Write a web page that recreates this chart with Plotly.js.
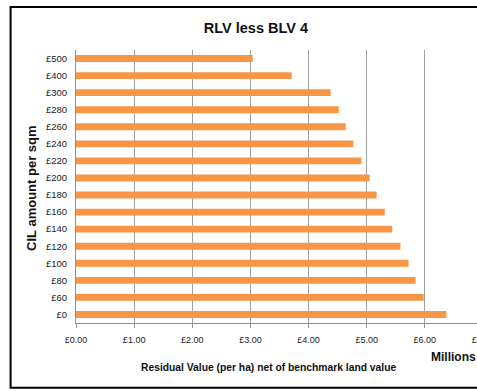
<!DOCTYPE html>
<html>
<head>
<meta charset="utf-8">
<script src="https://cdn.plot.ly/plotly-3.0.1.min.js"></script>
<style>
html,body{margin:0;padding:0;overflow:hidden;background:#fff;}
#chart{width:500px;height:391px;}
</style>
</head>
<body>
<div id="chart"></div>
<script>
const categories = ["£0","£60","£80","£100","£120","£140","£160","£180","£200","£220","£240","£260","£280","£300","£400","£500"];
const values = [6.37,5.98,5.84,5.72,5.58,5.44,5.31,5.17,5.05,4.91,4.77,4.64,4.52,4.38,3.71,3.04];
const xTickVals = [0,1,2,3,4,5,6,7];
const xTickText = ["£0.00","£1.00","£2.00","£3.00","£4.00","£5.00","£6.00","£7.00"];

const font = "Liberation Sans, Arial, sans-serif";

const trace = {
  type: "bar",
  orientation: "h",
  y: categories,
  x: values,
  marker: {color: "#F79646"},
  hoverinfo: "none"
};

const layout = {
  width: 500,
  height: 391,
  margin: {l: 76, r: 16.6, t: 50, b: 67.7},
  paper_bgcolor: "#fff",
  plot_bgcolor: "#fff",
  bargap: 0.6,
  showlegend: false,
  font: {family: font, color: "#222", size: 9},
  title: {
    text: "<b>RLV less BLV 4</b>",
    font: {family: font, size: 14.5, color: "#111"},
    xref: "paper", x: 0.442, xanchor: "center",
    yref: "container", y: 1 - 28/391, yanchor: "middle"
  },
  xaxis: {
    range: [0, 7],
    tickvals: xTickVals,
    ticktext: xTickText,
    showgrid: true,
    gridcolor: "#a0a0a0",
    gridwidth: 1,
    showline: true,
    linecolor: "#909090",
    linewidth: 1,
    ticks: "outside",
    ticklen: 4,
    tickcolor: "#909090",
    tickfont: {family: font, size: 9, color: "#222"},
    ticklabelstandoff: 4,
    zeroline: false,
    fixedrange: true
  },
  yaxis: {
    type: "category",
    categoryorder: "array",
    categoryarray: categories,
    showgrid: false,
    showline: true,
    linecolor: "#909090",
    linewidth: 1,
    ticks: "",
    tickfont: {family: font, size: 9.5, color: "#222"},
    ticklabelstandoff: 6,
    zeroline: false,
    fixedrange: true
  },
  annotations: [
    {
      text: "<b>CIL amount per sqm</b>",
      textangle: -90,
      xref: "paper", yref: "paper",
      x: (32 - 76) / 407.4, y: (323.3 - 189) / 273.3,
      xanchor: "center", yanchor: "middle",
      showarrow: false,
      font: {family: font, size: 13, color: "#111"}
    },
    {
      text: "<b>Residual Value (per ha) net of benchmark land value</b>",
      xref: "paper", yref: "paper",
      x: (269 - 76) / 407.4, y: (323.3 - 368) / 273.3,
      xanchor: "center", yanchor: "middle",
      showarrow: false,
      font: {family: font, size: 10.3, color: "#111"}
    },
    {
      text: "<b>Millions</b>",
      xref: "paper", yref: "paper",
      x: (429 - 76) / 407.4, y: (323.3 - 357) / 273.3,
      xanchor: "left", yanchor: "middle",
      showarrow: false,
      font: {family: font, size: 12, color: "#111"}
    }
  ],
  shapes: [
    {
      type: "rect",
      xref: "paper", yref: "paper",
      x0: (10.5 - 76) / 407.4, x1: 1.2,
      y0: (323.3 - 388) / 273.3, y1: (323.3 - 7) / 273.3,
      line: {color: "#000", width: 2},
      fillcolor: "rgba(0,0,0,0)",
      layer: "above"
    }
  ]
};

Plotly.newPlot("chart", [trace], layout, {displayModeBar: false, staticPlot: true});
</script>
</body>
</html>
